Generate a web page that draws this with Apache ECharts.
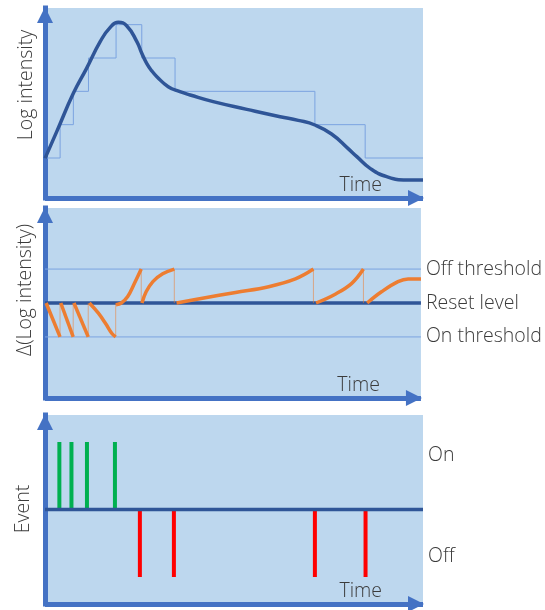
<!DOCTYPE html>
<html><head><meta charset="utf-8">
<script src="https://cdn.jsdelivr.net/npm/echarts@6/dist/echarts.min.js"></script>
<style>html,body{margin:0;padding:0;background:#fff}#c{width:545px;height:610px}</style>
</head><body><div id="c"></div>
<script>
// ---- data (time axis 0..100) ----
const logCurve = [[0,1.19],[3.1,1.99],[7.5,3.14],[11.0,3.89],[14.6,4.69],[17.2,5.11],[19.4,5.27],[21.6,5.17],[24.3,4.69],[25.6,4.34],[26.9,4.04],[28.2,3.82],[29.6,3.64],[32.6,3.34],[35.7,3.19],[38.4,3.09],[44.5,2.89],[53.4,2.66],[62.2,2.44],[67.0,2.33],[71.4,2.19],[75.8,1.92],[80.2,1.48],[82.5,1.24],[86.0,0.89],[90.4,0.64],[95.7,0.54],[100,0.54]];
const stepLevels = [[0,1.2],[4.0,2.2],[7.5,3.2],[11.5,4.2],[18.8,5.2],[25.6,4.2],[34.4,3.2],[71.4,2.2],[84.7,1.2],[100,1.2]];
const deltaSegments = [
  [[0.3,0],[4.0,-1]],
  [[4.2,0],[7.5,-1]],
  [[7.7,0],[11.5,-1]],
  [[11.8,0],[14.2,-0.3],[16.2,-0.62],[17.8,-0.9],[18.8,-1.0]],
  [[18.9,-0.05],[20.3,0],[22.0,0.19],[23.8,0.58],[25.6,1.0]],
  [[25.8,0],[26.9,0.33],[28.7,0.63],[31.3,0.86],[34.4,1.0]],
  [[35.0,0],[41.9,0.14],[50.7,0.31],[59.5,0.48],[66.6,0.71],[71.4,1.0]],
  [[72.1,0],[77.2,0.26],[81.6,0.58],[84.7,1.0]],
  [[85.7,0],[89.5,0.33],[93.9,0.63],[96.6,0.71],[100,0.71]]
];
const resetConnectors = [[4.0,-1],[7.5,-1],[11.5,-1],[18.8,-1],[25.6,1],[34.4,1],[71.4,1],[84.7,1]];
const deltaLevels = [1, 0, -1];
const deltaLevelLabels = ['Off threshold', 'Reset level', 'On threshold'];
const onEventTimes = [3.8, 7.0, 11.1, 18.5];
const offEventTimes = [25.1, 34.1, 71.4, 84.8];
const eventLabelValues = [0.8, -0.7];
const eventLabels = ['On', 'Off'];
const yTitles = ['Log intensity', 'Δ(Log intensity)', 'Event'];

// ---- styles ----
const FONT = '"Open Sans", "Noto Sans", sans-serif';
const FS = 19.5;
const TXT = '#3b3b3b';
const AXIS = '#4472C4';
const DARK = '#2F5597';
const THIN = '#7BA3E0';
const ORANGE = '#ED7D31';
const BG = '#BDD7EE';

const grids = [
  {left:45, width:378, top:8, height:190},
  {left:45, width:378, top:208, height:190},
  {left:45, width:378, top:415, height:189}
].map(g => Object.assign({show:true, backgroundColor:BG, borderWidth:0, containLabel:false}, g));

function xAx(i){
  return {type:'value', gridIndex:i, min:0, max:100,
    axisLine:{show:true, onZero:false, symbol:['none','triangle'], symbolSize:[16,16], symbolOffset:[0,-7],
      lineStyle:{color:AXIS, width:5, cap:'butt'}},
    axisTick:{show:false}, axisLabel:{show:false}, splitLine:{show:false},
    name:'Time', nameLocation:'end', nameGap:-41,
    nameTextStyle:{align:'right', verticalAlign:'bottom', padding:[0,0,3,0], fontFamily:FONT, fontSize:FS, fontWeight:300, color:TXT}};
}
function yAx(i, min, max){
  return {type:'value', gridIndex:i, min:min, max:max,
    axisLine:{show:true, onZero:false, symbol:['none','triangle'], symbolSize:[16,16], symbolOffset:[0,-7],
      lineStyle:{color:AXIS, width:5, cap:'square'}},
    axisTick:{show:false}, axisLabel:{show:false}, splitLine:{show:false}};
}
function yRight(i, min, max, vals, labels){
  return {type:'value', gridIndex:i, min:min, max:max, position:'right',
    axisLine:{show:false}, axisTick:{show:false}, splitLine:{show:false},
    axisLabel:{show:true, customValues:vals, margin:5, fontFamily:FONT, fontSize:FS, fontWeight:300, color:TXT,
      formatter: v => { const k = vals.findIndex(u => Math.abs(u - v) < 1e-6); return k >= 0 ? labels[k] : ''; }}};
}

const series = [];
// Panel 1
series.push({type:'line', xAxisIndex:0, yAxisIndex:0, data:stepLevels, step:'end', symbol:'none',
  lineStyle:{color:THIN, width:1}, z:2});
series.push({type:'line', xAxisIndex:0, yAxisIndex:0, data:logCurve, smooth:0.5, symbol:'none',
  lineStyle:{color:DARK, width:3.5}, z:3});
// Panel 2
deltaLevels.forEach(lv => {
  series.push({type:'line', xAxisIndex:1, yAxisIndex:1, data:[[0,lv],[100,lv]], symbol:'none',
    lineStyle: lv === 0 ? {color:DARK, width:3.5} : {color:THIN, width:1}, z:2});
});
series.push({type:'custom', xAxisIndex:1, yAxisIndex:1, data:resetConnectors, z:3,
  renderItem:(p, api) => { const a = api.coord([api.value(0), 0]); const b = api.coord([api.value(0), api.value(1)]);
    return {type:'line', shape:{x1:a[0], y1:a[1], x2:b[0], y2:b[1]}, style:{stroke:'rgba(237,125,49,0.55)', lineWidth:1}}; }});
deltaSegments.forEach(seg => {
  series.push({type:'line', xAxisIndex:1, yAxisIndex:1, data:seg, smooth:0.4, symbol:'none',
    lineStyle:{color:ORANGE, width:3.5}, z:4});
});
// Panel 3
function evSeries(times, val, color){
  return {type:'custom', xAxisIndex:2, yAxisIndex:3, data:times.map(t => [t, val]), z:3,
    renderItem:(p, api) => { const a = api.coord([api.value(0), 0]); const b = api.coord([api.value(0), api.value(1)]);
      return {type:'line', shape:{x1:a[0], y1:a[1], x2:b[0], y2:b[1]}, style:{stroke:color, lineWidth:4}}; }};
}
series.push(evSeries(onEventTimes, 1, '#00B050'));
series.push(evSeries(offEventTimes, -1, '#FF0000'));
series.push({type:'line', xAxisIndex:2, yAxisIndex:3, data:[[0,0],[100,0]], symbol:'none',
  lineStyle:{color:DARK, width:3.5}, z:4});

const titlePos = [[26,85],[25,290],[23,509]];
const chart = echarts.init(document.getElementById('c'), null, {renderer:'canvas'});
chart.setOption({
  animation:false,
  grid:grids,
  xAxis:[xAx(0), xAx(1), xAx(2)],
  yAxis:[yAx(0,0,5.7), yAx(1,-2.8,2.8), yRight(1,-2.8,2.8,deltaLevels,deltaLevelLabels), yAx(2,-1.4,1.4), yRight(2,-1.4,1.4,eventLabelValues,eventLabels)],
  series:series,
  graphic: yTitles.map((t, i) => ({type:'text', x:titlePos[i][0], y:titlePos[i][1], rotation:Math.PI/2,
    style:{text:t, fontFamily:FONT, fontSize:FS, fontWeight:300, fill:TXT, align:'center', verticalAlign:'middle'}}))
});
</script></body></html>
